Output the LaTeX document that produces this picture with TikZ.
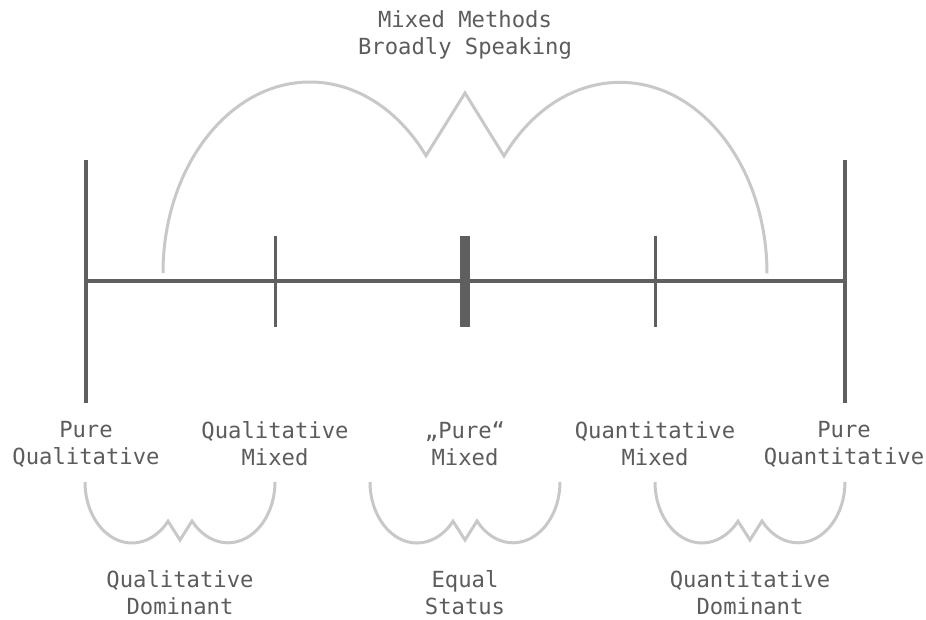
\documentclass[tikz,border=0pt]{standalone}
\usepackage{fontspec}
\setmonofont{DejaVu Sans Mono}
\definecolor{axisgray}{HTML}{5F5F5F}
\definecolor{bracegray}{HTML}{C8C8C8}
\definecolor{txtgray}{HTML}{5C5C5C}
\begin{document}
\begin{tikzpicture}[x=1pt,y=-1pt,
  axis/.style={draw=axisgray, line width=3.2pt},
  tickline/.style={draw=axisgray, line width=3pt},
  brace/.style={draw=bracegray, line width=3pt, line join=miter},
  lbl/.style={text=txtgray, font=\ttfamily\fontsize{22.2}{27}\selectfont, align=center, inner sep=0pt},
  smallbrace/.pic={\draw[brace] (-95,0) arc[start angle=180,end angle=320,x radius=47pt,y radius=61pt] -- (0,58) -- (12,39) arc[start angle=220,end angle=360,x radius=47pt,y radius=61pt];}]
\useasboundingbox (0,0) rectangle (926,619);
% axis
\coordinate (L) at (86,281);
\coordinate (R) at (845,281);
\coordinate (Ltop) at (86,160);
\coordinate (Lbot) at (86,403);
\coordinate (Rtop) at (845,160);
\coordinate (Rbot) at (845,403);
\coordinate (T1top) at (275,236);
\coordinate (T1bot) at (275,327);
\coordinate (T3top) at (655,236);
\coordinate (T3bot) at (655,327);
\draw[axis] (L) -- (R);
\draw[axis] (Ltop) -- (Lbot);
\draw[axis] (Rtop) -- (Rbot);
\draw[tickline] (T1top) -- (T1bot);
\draw[tickline] (T3top) -- (T3bot);
\node[fill=axisgray, minimum width=10pt, minimum height=91pt, inner sep=0pt] (mid) at (465,281.5) {};
% big brace
\draw[brace] (163,273) arc[start angle=180,end angle=37.9,x radius=147pt,y radius=191pt]
  -- (465,93) -- (504,156) arc[start angle=142.1,end angle=0,x radius=147pt,y radius=191pt];
% small braces
\pic at (180,482) {smallbrace};
\pic at (465,482) {smallbrace};
\pic at (750,482) {smallbrace};
% labels
\node[lbl] (top) at (465,35) {Mixed Methods\\Broadly Speaking};
\node[lbl] (pqual) at (86,444) {Pure\\Qualitative};
\node[lbl] (qualmix) at (275,444) {Qualitative\\Mixed};
\node[lbl] (puremix) at (465,444) {„Pure“\\Mixed};
\node[lbl] (quanmix) at (655,444) {Quantitative\\Mixed};
\node[lbl] (pquan) at (844,444) {Pure\\Quantitative};
\node[lbl] (qualdom) at (180,593) {Qualitative\\Dominant};
\node[lbl] (equal) at (465,593) {Equal\\Status};
\node[lbl] (quandom) at (750,593) {Quantitative\\Dominant};
\end{tikzpicture}
\end{document}
